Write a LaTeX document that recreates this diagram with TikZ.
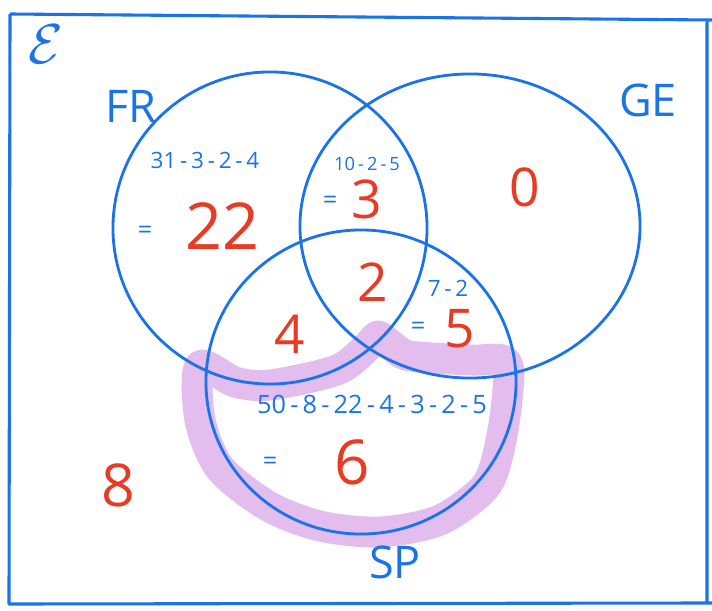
\RequirePackage{fix-cm}
\documentclass[tikz,border=0pt]{standalone}
\usepackage{fontspec}
\setmainfont{Open Sans}
\usetikzlibrary{shapes.geometric}
\definecolor{PenBlue}{HTML}{1A73E8}
\definecolor{PenRed}{HTML}{E63B24}
\definecolor{MarkPurple}{HTML}{E2BDEE}

\begin{document}
\begin{tikzpicture}[
  x=0.025cm, y=-0.025cm,
  % ── set outlines ─────────────────────────────────────────
  setring/.style={
    draw=PenBlue, line width=2pt,
    ellipse, inner sep=0pt
  },
  % ── text styles ──────────────────────────────────────────
  setname/.style={text=PenBlue, font=\fontsize{32}{32}\selectfont},
  count/.style={text=PenRed, font=\fontsize{38}{38}\selectfont},
  working/.style={text=PenBlue, font=\fontsize{16}{16}\selectfont},
  eqsign/.style={text=PenBlue, font=\fontsize{18}{18}\selectfont},
  % ── highlighter ──────────────────────────────────────────
  highlight/.style={draw=MarkPurple, line width=22pt, line join=round}
]
\useasboundingbox (0,0) rectangle (712,611);

%% ── Universal set frame ──
\draw[draw=PenBlue, line width=2.2pt, line join=round]
  (10,14) -- (712,20) (707,22) -- (707,602) (712,603) -- (9,604) -- (10,14);
\node[setname, font=\fontsize{40}{40}\selectfont] (U) at (46,44) {$\mathcal{E}$};

%% ── Highlighted region ──
\draw[highlight] plot[smooth cycle, tension=0.5] coordinates {
  (200,366) (235,382) (270,385) (337,370) (366,348) (378,336)
  (392,346) (410,356) (470,360) (506,362) (507,400) (499,450)
  (485,487) (440,520) (380,532) (320,526) (268,506) (220,468)
  (200,420)};

%% ── Sets ──
\node[setring, minimum width=7.85cm, minimum height=7.8cm] (FR) at (270,228) {};
\node[setring, minimum width=8.5cm,  minimum height=7.6cm] (GE) at (470,226) {};
\node[setring, minimum width=7.75cm, minimum height=7.6cm] (SP) at (361,382) {};

%% ── Set names ──
\node[setname] (FRname) at (131,106) {FR};
\node[setname] (GEname) at (648,100) {GE};
\node[setname] (SPname) at (395,562) {SP};

%% ── Working ──
\node[working] (wFR)  at (205,160) {31\,-\,3\,-\,2\,-\,4};
\node[working, font=\fontsize{13}{13}\selectfont] (wFRGE) at (367,164) {10\,-\,2\,-\,5};
\node[working] (wGESP) at (448,288) {7\,-\,2};
\node[working, font=\fontsize{18}{18}\selectfont] (wSP) at (372,404) {50\,-\,8\,-\,22\,-\,4\,-\,3\,-\,2\,-\,5};

%% ── Equals signs ──
\node[eqsign] (eFR)   at (145,232) {=};
\node[eqsign] (eFRGE) at (330,202) {=};
\node[eqsign] (eGESP) at (418,328) {=};
\node[eqsign] (eSP)   at (270,463) {=};

%% ── Counts ──
\node[count, font=\fontsize{46}{46}\selectfont] (nFR) at (222,226) {22};
\node[count] (nFRGE)   at (367,199) {3};
\node[count] (nGE)     at (525,187) {0};
\node[count] (nAll)    at (373,282) {2};
\node[count] (nGESP)   at (460,329) {5};
\node[count] (nFRSP)   at (290,334) {4};
\node[count, font=\fontsize{44}{44}\selectfont] (nSP) at (352,462) {6};
\node[count, font=\fontsize{42}{42}\selectfont] (nNone) at (118,485) {8};

\end{tikzpicture}
\end{document}
